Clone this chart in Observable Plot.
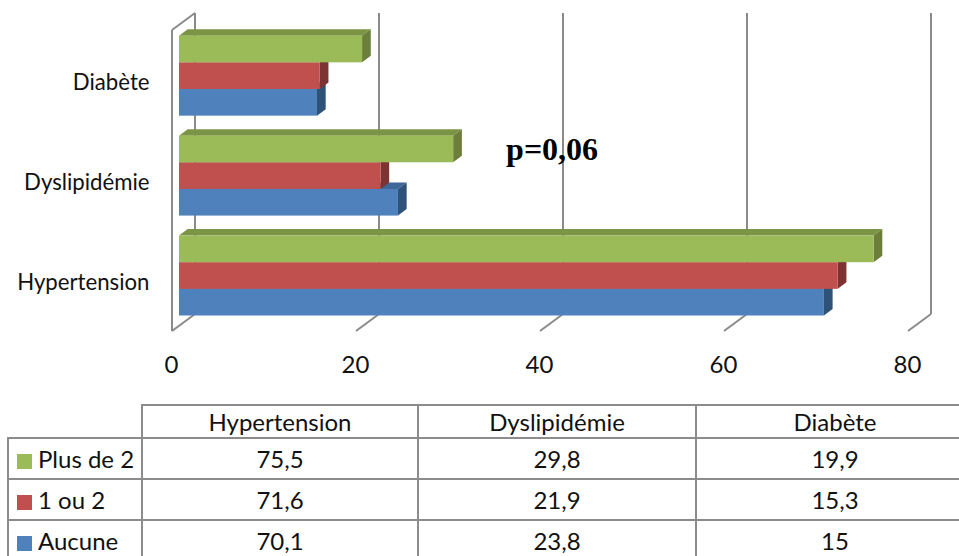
<!DOCTYPE html>
<html lang="fr">
<head>
<meta charset="utf-8">
<script src="https://cdn.jsdelivr.net/npm/d3@7"></script>
<script src="https://cdn.jsdelivr.net/npm/@observablehq/plot@0.6"></script>
<style>
html,body{margin:0;padding:0;background:#fff;overflow:hidden;width:959px;height:556px}
#chart svg{display:block;background:#fff}
table{position:absolute;left:7px;top:404px;border-collapse:collapse;table-layout:fixed;width:966px;font-family:Lato,sans-serif;font-size:24px;color:#111}
td,th{border:2px solid #8c8c8c;font-weight:400;text-align:center;padding:0;height:41px;box-sizing:border-box;white-space:nowrap}
tr.head td{height:33px}
tr.head td.blank{border-left:none;border-top:none;border-bottom:2px solid #8c8c8c}
td.lab{text-align:left;padding-left:8px}
td.lab i{display:inline-block;width:15px;height:15px;margin-right:6px;vertical-align:-1px}
</style>
</head>
<body>
<div id="chart"></div>
<script>
const categories = ["Diabète", "Dyslipidémie", "Hypertension"];
const series = ["Aucune", "1 ou 2", "Plus de 2"];
const aucune = [15, 23.8, 70.1];
const unOuDeux = [15.3, 21.9, 71.6];
const plusDeDeux = [19.9, 29.8, 75.5];
const xTicks = [0, 20, 40, 60, 80];
const tableOrder = ["Hypertension", "Dyslipidémie", "Diabète"];
const frontColors = ["#4F81BD", "#C0504D", "#9BBB59"];
const topColors = ["#3f6797", "#9a403e", "#7b9446"];
const sideColors = ["#2f5378", "#7d3331", "#6b7e3a"];
const annotation = "p=0,06";
const annotationX = 40.5;

const valuesBySeries = [aucune, unOuDeux, plusDeDeux];
const rows = series.flatMap((s, i) => categories.map((c, j) => ({series: s, category: c, value: valuesBySeries[i][j]})));

const wall = "#8a8a8a";
const depth = {dx: 8.7, dy: 6.5};
const font = "Lato, sans-serif";
const svgNS = "http://www.w3.org/2000/svg";
const topFacet = () => categories[0];

function box3d(index, scales, values, dims, context, next) {
  const g = next(index, scales, values, dims, context);
  const rects = [...g.querySelectorAll("rect")];
  rects.forEach((r, k) => {
    const si = series.indexOf(rows[index[k]].series);
    const x = +r.getAttribute("x"), y = +r.getAttribute("y");
    const w = +r.getAttribute("width"), h = +r.getAttribute("height");
    const add = (pts, fill) => {
      const p = document.createElementNS(svgNS, "polygon");
      p.setAttribute("points", pts.map(q => q.join(",")).join(" "));
      p.setAttribute("fill", fill);
      r.parentNode.insertBefore(p, r);
    };
    add([[x, y], [x + depth.dx, y - depth.dy], [x + w + depth.dx, y - depth.dy], [x + w, y]], topColors[si]);
    add([[x + w, y], [x + w + depth.dx, y - depth.dy], [x + w + depth.dx, y + h - depth.dy], [x + w, y + h]], sideColors[si]);
  });
  return g;
}

// diagonal from the front edge to the back wall (floor, or top of the side wall)
function diagonal(frontY, backY) {
  return (index, scales, values, dims, context, next) => {
    const g = next(index, scales, values, dims, context);
    g.querySelectorAll("line").forEach(l => {
      const x = +l.getAttribute("x1");
      l.setAttribute("x1", x - 7.5); l.setAttribute("x2", x + 15.5);
      l.setAttribute("y1", dims.marginTop + frontY); l.setAttribute("y2", dims.marginTop + backY);
    });
    return g;
  };
}

const plot = Plot.plot({
  width: 959,
  height: 404,
  marginLeft: 179,
  marginRight: 44,
  marginTop: 35.7,
  marginBottom: 88.5,
  style: {fontFamily: font, background: "#fff", overflow: "visible"},
  x: {domain: [0, 80], axis: null},
  y: {domain: [...series].reverse(), padding: 0, round: false, axis: null},
  fy: {domain: categories, paddingInner: 0.2, paddingOuter: 0, round: false, axis: null},
  color: {domain: series, range: frontColors},
  marks: [
    Plot.ruleX(xTicks, {x: d => d, fy: topFacet, dx: 15.5, insetTop: -22.7, insetBottom: -198.4, stroke: wall, strokeWidth: 2}),
    Plot.ruleX([0], {x: d => d, fy: topFacet, dx: -7.5, insetTop: -5.7, insetBottom: -215.4, stroke: wall, strokeWidth: 2}),
    Plot.ruleX(xTicks, {x: d => d, fy: topFacet, stroke: wall, strokeWidth: 2, render: diagonal(295.3, 278.3)}),
    Plot.ruleX([0], {x: d => d, fy: topFacet, stroke: wall, strokeWidth: 2, render: diagonal(-5.7, -22.7)}),
    Plot.barX(rows, {x: "value", y: "series", fy: "category", fill: "series", render: box3d}),
    Plot.text([annotation], {x: () => annotationX, y: () => series[2], fy: () => categories[1], text: d => d,
      lineAnchor: "middle", fontFamily: "'Liberation Serif', serif", fontWeight: "bold", fontSize: 32, fill: "#000"}),
    Plot.axisX(xTicks, {anchor: "bottom", tickSize: 0, tickPadding: 40, dx: -8, label: null, fontSize: 24, fill: "#111",
      tickFormat: d => String(d), textAnchor: "middle"}),
    Plot.axisFy({anchor: "left", tickSize: 0, tickPadding: 30, dy: 6.5, label: null, fontSize: 22.2, fill: "#111"})
  ]
});
document.getElementById("chart").appendChild(plot);

const table = document.createElement("table");
const fmt = v => String(v).replace(".", ",");
const tableRows = [2, 1, 0];
table.innerHTML =
  `<colgroup><col style="width:134px"><col style="width:276px"><col style="width:278px"><col style="width:278px"></colgroup>` +
  `<tr class="head"><td class="blank"></td>${tableOrder.map(c => `<td>${c}</td>`).join("")}</tr>` +
  tableRows.map(si => `<tr><td class="lab"><i style="background:${frontColors[si]}"></i>${series[si]}</td>${
    tableOrder.map(c => `<td>${fmt(valuesBySeries[si][categories.indexOf(c)])}</td>`).join("")}</tr>`).join("");
document.body.appendChild(table);
</script>
</body>
</html>
